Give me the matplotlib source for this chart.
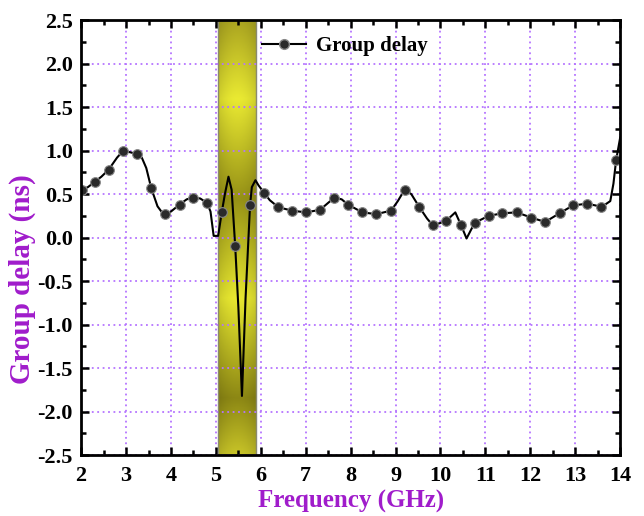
import numpy as np
import matplotlib
matplotlib.use("Agg")
import matplotlib.pyplot as plt
from matplotlib.ticker import MultipleLocator

plt.rcParams['font.family'] = ['Liberation Serif', 'DejaVu Serif']
plt.rcParams['font.weight'] = 'bold'

# marker points (GHz, ns)
f_mark = [2.01, 2.30, 2.61, 2.94, 3.24, 3.56, 3.87, 4.19, 4.49, 4.80, 5.13,
          5.43, 5.76, 6.08, 6.39, 6.69, 7.01, 7.32, 7.64, 7.94, 8.26, 8.57,
          8.90, 9.20, 9.53, 9.83, 10.12, 10.46, 10.76, 11.07, 11.38, 11.70,
          12.02, 12.33, 12.65, 12.95, 13.26, 13.58, 13.91]
gd_mark = [0.55, 0.64, 0.78, 1.00, 0.96, 0.57, 0.27, 0.38, 0.46, 0.40, 0.29,
           -0.10, 0.37, 0.51, 0.35, 0.31, 0.29, 0.32, 0.46, 0.38, 0.29, 0.27,
           0.31, 0.55, 0.35, 0.14, 0.19, 0.14, 0.17, 0.25, 0.28, 0.29,
           0.23, 0.18, 0.28, 0.37, 0.39, 0.35, 0.89]

# full curve (markers plus extra vertices)
f_line = [2.00, 2.01, 2.15, 2.30, 2.45, 2.61, 2.80, 2.94, 3.10, 3.24, 3.35,
          3.45, 3.56, 3.70, 3.80, 3.87, 4.00, 4.19, 4.35, 4.49, 4.65, 4.80,
          4.88, 4.95, 5.05, 5.13, 5.20, 5.28, 5.35, 5.43, 5.50, 5.58, 5.66,
          5.76, 5.80, 5.88, 5.95, 6.08, 6.20, 6.39, 6.69, 7.01, 7.32, 7.50,
          7.64, 7.80, 7.94, 8.26, 8.57, 8.90, 9.05, 9.20, 9.35, 9.53, 9.70,
          9.83, 10.12, 10.33, 10.46, 10.58, 10.76, 11.07, 11.38, 11.70, 12.02,
          12.33, 12.65, 12.95, 13.26, 13.45, 13.58, 13.78, 13.85, 13.91, 14.00]
gd_line = [0.52, 0.55, 0.58, 0.64, 0.70, 0.78, 0.92, 1.00, 0.98, 0.96, 0.92,
           0.80, 0.57, 0.36, 0.29, 0.27, 0.30, 0.38, 0.44, 0.46, 0.45, 0.40,
           0.30, 0.02, 0.02, 0.29, 0.50, 0.70, 0.55, -0.10, -0.80, -1.82, -0.70,
           0.37, 0.58, 0.66, 0.60, 0.51, 0.43, 0.35, 0.31, 0.29, 0.32, 0.40,
           0.46, 0.44, 0.38, 0.29, 0.27, 0.31, 0.42, 0.55, 0.50, 0.35, 0.22,
           0.14, 0.19, 0.29, 0.14, -0.01, 0.17, 0.25, 0.28, 0.29, 0.23,
           0.18, 0.28, 0.37, 0.39, 0.37, 0.35, 0.42, 0.62, 0.89, 1.15]

band = (5.05, 5.90)
purple = '#a01ccb'
grid_c = '#b574ff'

fig = plt.figure(figsize=(6.44, 5.16), dpi=100)
ax = fig.add_axes([0.126, 0.118, 0.837, 0.843])

# gradient fill for the notch band
stops_v = [2.5, 1.6, 0.45, -0.7, -1.85, -2.5]
stops_c = np.array([[170, 164, 32], [234, 234, 50], [150, 145, 22],
                    [232, 232, 48], [140, 135, 20], [200, 196, 40]]) / 255.0
vv = np.linspace(2.5, -2.5, 300)
col = np.stack([np.interp(-vv, [-s for s in stops_v], stops_c[:, k]) for k in range(3)], axis=1)
hx = np.linspace(-1, 1, 40)
shade = 1 - 0.12 * hx ** 2
img = col[:, None, :] * shade[None, :, None]
ax.imshow(np.clip(img, 0, 1), extent=[band[0], band[1], -2.5, 2.5], aspect='auto', zorder=0.3)
ax.axvspan(band[0], band[1], facecolor='none', edgecolor='#8a8a70', lw=1.0, zorder=0.35)

ax.plot(f_line, gd_line, color='black', lw=1.5, zorder=3)
ax.plot(f_mark, gd_mark, linestyle='none', marker='o', markersize=7,
        markerfacecolor='#2a2a2a', markeredgecolor='#888888', markeredgewidth=0.8, zorder=4)
ax.plot([], [], color='black', lw=1.5, marker='o', markersize=7,
        markerfacecolor='#2a2a2a', markeredgecolor='#888888', label='Group delay')

ax.set_xlim(2, 14)
ax.set_ylim(-2.5, 2.5)
ax.xaxis.set_major_locator(MultipleLocator(1))
ax.xaxis.set_minor_locator(MultipleLocator(0.5))
ax.yaxis.set_minor_locator(MultipleLocator(0.25))
yt = np.arange(-2.5, 2.51, 0.5)
ax.set_yticks(yt)
ax.set_yticklabels(['%.1f' % v for v in yt])

ax.set_axisbelow(True)
ax.grid(True, which='major', color=grid_c, linestyle=(0, (1, 2)), lw=1.3)
ax.tick_params(which='both', direction='in', top=True, right=True, width=1.8)
ax.tick_params(which='major', length=6, labelsize=16)
ax.tick_params(axis='x', which='major', pad=8)
ax.tick_params(axis='y', which='major', pad=6)
ax.tick_params(which='minor', length=3.5)
for s in ax.spines.values():
    s.set_linewidth(2)
    s.set_zorder(5)
for lab in ax.get_xticklabels() + ax.get_yticklabels():
    lab.set_fontweight('bold')

ax.set_xlabel('Frequency (GHz)', color=purple, fontsize=18, fontweight='bold', labelpad=3)
ax.set_ylabel('Group delay (ns)', color=purple, fontsize=21, fontweight='bold')
ax.yaxis.set_label_coords(-0.083, 0.405)

leg = ax.legend(loc='upper left', bbox_to_anchor=(0.336, 0.963), frameon=False,
                borderaxespad=0, borderpad=0,
                prop={'weight': 'bold', 'size': 15}, handlelength=2.1, handletextpad=0.5)

fig.savefig('out.png', dpi=100)
